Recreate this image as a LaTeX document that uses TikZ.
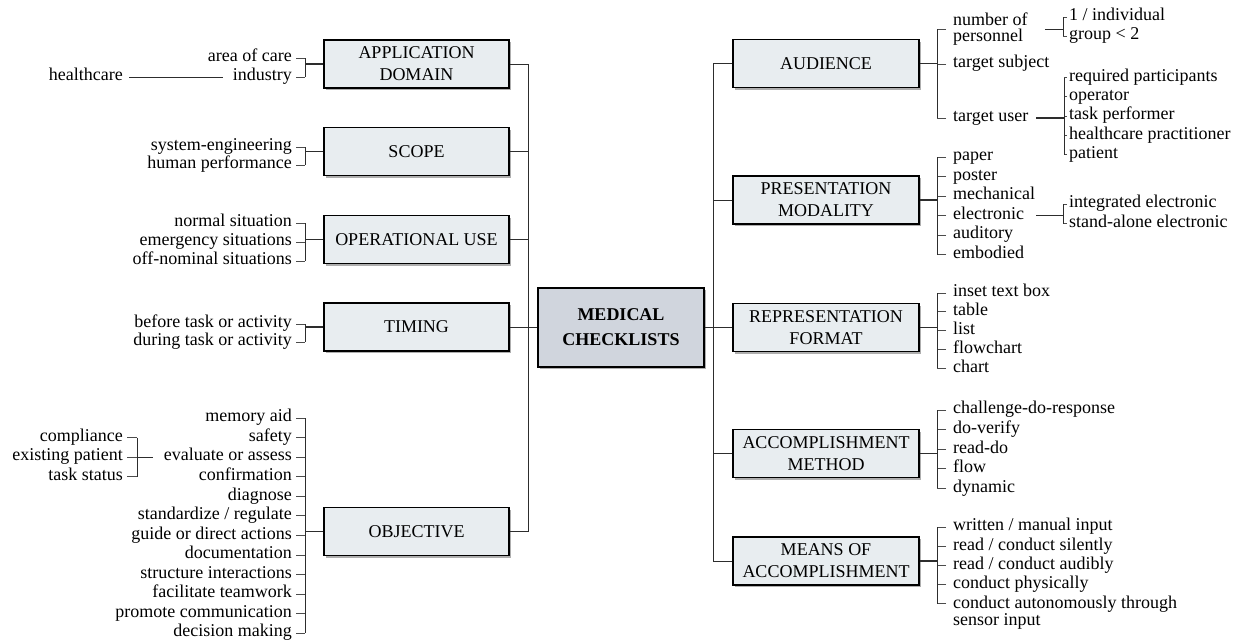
\documentclass[tikz,border=0pt]{standalone}
\usepackage{fontspec}
\setmainfont{Liberation Serif}
\usetikzlibrary{shadows}
\definecolor{boxfill}{RGB}{232,237,240}
\definecolor{medfill}{RGB}{208,213,221}
\definecolor{ln}{RGB}{45,45,45}
\newcommand\itfont{\fontsize{18}{19}\selectfont}
\newcommand\bxfont{\fontsize{18}{22}\selectfont}
\newcommand\twofont{\fontsize{18}{16}\selectfont}
\newcommand\twofontb{\fontsize{18}{14}\selectfont}
\begin{document}
\begin{tikzpicture}[x=1pt,y=-1pt,
 catbox/.style={draw=black, line width=1.1pt, fill=boxfill, minimum width=185pt, minimum height=48pt, inner sep=0pt, align=center, font=\bxfont, drop shadow={shadow xshift=1.5pt, shadow yshift=-2pt, fill=black!45, opacity=0.7}},
 lf/.style={inner sep=0pt, anchor=east, font=\itfont},
 rf/.style={inner sep=0pt, anchor=west, font=\itfont},
 conn/.style={draw=ln, line width=0.9pt},
 tick/.style={draw=ln!85, line width=0.8pt},
 joinline/.style={draw=ln, line width=1.6pt},
]
\useasboundingbox (0,0) rectangle (1258,641);

% ---------- boxes ----------
\node[catbox] (appd) at (416.5,64) {APPLICATION\\DOMAIN};
\node[catbox] (scope) at (416.5,151.5) {SCOPE};
\node[catbox] (opuse) at (416.5,239.5) {OPERATIONAL USE};
\node[catbox] (timing) at (416.5,327) {TIMING};
\node[catbox] (objective) at (416.5,531.5) {OBJECTIVE};
\node[catbox, fill=medfill, minimum width=166pt, minimum height=79pt, font={\fontsize{18}{25}\selectfont\bfseries}] (med) at (621,327.5) {MEDICAL\\CHECKLISTS};
\node[catbox, minimum width=186pt] (audience) at (826,63.5) {AUDIENCE};
\node[catbox, minimum width=186pt] (pres) at (826,200) {PRESENTATION\\MODALITY};
\node[catbox, minimum width=186pt] (repr) at (826,327.5) {REPRESENTATION\\FORMAT};
\node[catbox, minimum width=186pt] (accm) at (826,453.5) {ACCOMPLISHMENT\\METHOD};
\node[catbox, minimum width=186pt] (means) at (826,561) {MEANS OF\\ACCOMPLISHMENT};

% ---------- trunks ----------
\coordinate (lt) at (528,327.5);
\coordinate (rt) at (713,327.5);
\foreach \b in {appd,scope,opuse,timing,objective} \draw[conn] (\b.east) -| (lt);
\draw[conn] (lt) -- (med.west);
\draw[conn] (med.east) -- (rt);
\foreach \b in {audience,pres,repr,accm,means} \draw[conn] (rt) |- (\b.west);

% ---------- left items ----------
\node[lf] (aoc) at (292,58) {\strut area of care};
\node[lf] (ind) at (292,77) {\strut industry};
\node[lf] (hc) at (123,77) {\strut healthcare};
\node[lf] (se) at (292,147) {\strut system-engineering};
\node[lf] (hp) at (292,165) {\strut human performance};
\node[lf] (ns) at (292,223) {\strut normal situation};
\node[lf] (es) at (292,242) {\strut emergency situations};
\node[lf] (ons) at (292,261) {\strut off-nominal situations};
\node[lf] (bt) at (292,324) {\strut before task or activity};
\node[lf] (dt) at (292,342) {\strut during task or activity};
\node[lf] (o1) at (292,418.0) {\strut memory aid};
\node[lf] (o2) at (292,437.6) {\strut safety};
\node[lf] (o3) at (292,457.1) {\strut evaluate or assess};
\node[lf] (o4) at (292,476.7) {\strut confirmation};
\node[lf] (o5) at (292,496.2) {\strut diagnose};
\node[lf] (o6) at (292,515.8) {\strut standardize / regulate};
\node[lf] (o7) at (292,535.3) {\strut guide or direct actions};
\node[lf] (o8) at (292,554.9) {\strut documentation};
\node[lf] (o9) at (292,574.4) {\strut structure interactions};
\node[lf] (o10) at (292,594.0) {\strut facilitate teamwork};
\node[lf] (o11) at (292,613.5) {\strut promote communication};
\node[lf] (o12) at (292,633.1) {\strut decision making};
\node[lf] (c1) at (123,437.6) {\strut compliance};
\node[lf] (c2) at (123,457.1) {\strut existing patient};
\node[lf] (c3) at (123,476.7) {\strut task status};

\coordinate (bL) at (305,0);
\coordinate (bS) at (137,0);
% application domain
\foreach \n in {aoc,ind} \draw[tick] ([xshift=4pt]\n.east) -- (\n.east -| bL);
\draw[conn] (aoc.east -| bL) -- (ind.east -| bL);
\draw[joinline] (appd.west) -- (appd.west -| bL);
\draw[conn, shorten <=6pt, shorten >=10pt] (hc.east) -- (ind.west);
% scope
\foreach \n in {se,hp} \draw[tick] ([xshift=4pt]\n.east) -- (\n.east -| bL);
\draw[conn] (se.east -| bL) -- (hp.east -| bL);
\draw[joinline] (scope.west) -- (scope.west -| bL);
% operational use
\foreach \n in {ns,es,ons} \draw[tick] ([xshift=4pt]\n.east) -- (\n.east -| bL);
\draw[conn] (ns.east -| bL) -- (ons.east -| bL);
\draw[joinline] (opuse.west) -- (opuse.west -| bL);
% timing
\foreach \n in {bt,dt} \draw[tick] ([xshift=4pt]\n.east) -- (\n.east -| bL);
\draw[conn] (bt.east -| bL) -- (dt.east -| bL);
\draw[joinline] (timing.west) -- (timing.west -| bL);
% objective
\foreach \n in {o1,o2,o3,o4,o5,o6,o7,o8,o9,o10,o11,o12} \draw[tick] ([xshift=4pt]\n.east) -- (\n.east -| bL);
\draw[conn] (o1.east -| bL) -- (o12.east -| bL);
\draw[joinline] (objective.west) -- (objective.west -| bL);
% evaluate sub-bracket
\foreach \n in {c1,c2,c3} \draw[tick] ([xshift=4pt]\n.east) -- (\n.east -| bS);
\draw[conn] (c1.east -| bS) -- (c3.east -| bS);
\draw[conn] (c2.east -| bS) -- ([xshift=-11pt]o3.west);

% ---------- right items ----------
\node[inner sep=0pt, anchor=north west, align=left, font=\twofont] (np) at (953,12.7) {number of\\personnel};
\node[rf] (ts) at (953,64) {\strut target subject};
\node[rf] (tu) at (953,118) {\strut target user};
\node[rf] (i1) at (1069,17) {\strut 1 / individual};
\node[rf] (i2) at (1069,36) {\strut group < 2};
\node[rf] (u1) at (1069,77.5) {\strut required participants};
\node[rf] (u2) at (1069,96.75) {\strut operator};
\node[rf] (u3) at (1069,116) {\strut task performer};
\node[rf] (u4) at (1069,135.25) {\strut healthcare practitioner};
\node[rf] (u5) at (1069,154.5) {\strut patient};
\node[rf] (p1) at (953,157) {\strut paper};
\node[rf] (p2) at (953,176.5) {\strut poster};
\node[rf] (p3) at (953,196) {\strut mechanical};
\node[rf] (p4) at (953,215.5) {\strut electronic};
\node[rf] (p5) at (953,235) {\strut auditory};
\node[rf] (p6) at (953,254.5) {\strut embodied};
\node[rf] (e1) at (1069,204) {\strut integrated electronic};
\node[rf] (e2) at (1069,223.5) {\strut stand-alone electronic};
\node[rf] (r1) at (953,293) {\strut inset text box};
\node[rf] (r2) at (953,311.8) {\strut table};
\node[rf] (r3) at (953,330.6) {\strut list};
\node[rf] (r4) at (953,349.4) {\strut flowchart};
\node[rf] (r5) at (953,368.2) {\strut chart};
\node[rf] (a1) at (953,410) {\strut challenge-do-response};
\node[rf] (a2) at (953,429.6) {\strut do-verify};
\node[rf] (a3) at (953,449.2) {\strut read-do};
\node[rf] (a4) at (953,468.8) {\strut flow};
\node[rf] (a5) at (953,488.4) {\strut dynamic};
\node[rf] (m1) at (953,527) {\strut written / manual input};
\node[rf] (m2) at (953,546.2) {\strut read / conduct silently};
\node[rf] (m3) at (953,565.4) {\strut read / conduct audibly};
\node[rf] (m4) at (953,584.6) {\strut conduct physically};
\node[inner sep=0pt, anchor=north west, align=left, font=\twofontb] (m5) at (953,595.5) {conduct autonomously through\\sensor input};
\coordinate (m5t) at ([yshift=-8.3pt]m5.north west);

\coordinate (bR) at (937,0);
\coordinate (bN) at (1063,0);
\coordinate (bU) at (1064,0);
% audience
\foreach \n in {np,ts,tu} \draw[tick] ([xshift=-7pt]\n.west) -- (\n.west -| bR);
\draw[conn] (np.west -| bR) -- (tu.west -| bR);
\draw[joinline] (audience.east) -- (audience.east -| bR);
\foreach \n in {i1,i2} \draw[tick] ([xshift=-2pt]\n.west) -- (\n.west -| bN);
\draw[conn] (i1.west -| bN) -- (i2.west -| bN);
\draw[joinline, line width=1.2pt] ([xshift=17pt]np.east) -- (np.east -| bN);
\foreach \n in {u1,u2,u3,u4,u5} \draw[tick] ([xshift=-2pt]\n.west) -- (\n.west -| bU);
\draw[conn] (u1.west -| bU) -- (u5.west -| bU);
\draw[joinline, line width=1.2pt] ([xshift=7.5pt]tu.east) -- (tu.east -| bU);
% presentation
\foreach \n in {p1,p2,p3,p4,p5,p6} \draw[tick] ([xshift=-7pt]\n.west) -- (\n.west -| bR);
\draw[conn] (p1.west -| bR) -- (p6.west -| bR);
\draw[joinline] (pres.east) -- (pres.east -| bR);
\foreach \n in {e1,e2} \draw[tick] ([xshift=-2pt]\n.west) -- (\n.west -| bN);
\draw[conn] (e1.west -| bN) -- (e2.west -| bN);
\draw[joinline, line width=1.2pt] ([xshift=12pt]p4.east) -- (p4.east -| bN);
% representation
\foreach \n in {r1,r2,r3,r4,r5} \draw[tick] ([xshift=-7pt]\n.west) -- (\n.west -| bR);
\draw[conn] (r1.west -| bR) -- (r5.west -| bR);
\draw[joinline] (repr.east) -- (repr.east -| bR);
% accomplishment method
\foreach \n in {a1,a2,a3,a4,a5} \draw[tick] ([xshift=-7pt]\n.west) -- (\n.west -| bR);
\draw[conn] (a1.west -| bR) -- (a5.west -| bR);
\draw[joinline] (accm.east) -- (accm.east -| bR);
% means
\foreach \n in {m1,m2,m3,m4} \draw[tick] ([xshift=-7pt]\n.west) -- (\n.west -| bR);
\draw[tick] ([xshift=-7pt]m5t) -- (m5t -| bR);
\draw[conn] (m1.west -| bR) -- (m5t -| bR);
\draw[joinline] (means.east) -- (means.east -| bR);
\end{tikzpicture}
\end{document}
